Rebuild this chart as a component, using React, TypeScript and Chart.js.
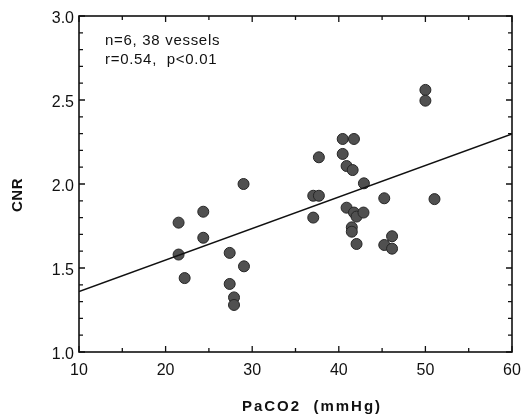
import React, { useEffect, useRef } from "react";
import { Chart, registerables } from "chart.js";

Chart.register(...registerables);

// PaCO2 (mmHg) values of each vessel
const paco2 = [
  29.0, 24.35, 21.5, 24.35, 21.5, 27.4, 29.05, 22.2, 27.4, 27.9, 27.9,
  40.45, 41.75, 37.7, 40.45, 40.9, 41.6, 42.9, 37.05, 37.7, 45.25, 51.05,
  40.9, 41.75, 42.05, 42.85, 37.05, 41.5, 41.5, 46.15, 42.05, 45.25, 46.15,
  50.0, 50.0,
];
// CNR values of each vessel
const cnr = [
  2.0, 1.835, 1.77, 1.68, 1.58, 1.59, 1.51, 1.44, 1.405, 1.325, 1.28,
  2.268, 2.268, 2.159, 2.179, 2.107, 2.083, 2.004, 1.93, 1.93, 1.915, 1.91,
  1.859, 1.83, 1.806, 1.83, 1.80, 1.742, 1.716, 1.689, 1.643, 1.637, 1.615,
  2.56, 2.496,
];
// regression line end points
const fitX = [10, 60];
const fitY = [1.36, 2.298];

const xTicks = [10, 20, 30, 40, 50, 60];
const yTicks = [1.0, 1.5, 2.0, 2.5, 3.0];
const annotation = ["n=6, 38 vessels", "r=0.54,  p<0.01"];
const xTitle = "PaCO2  (mmHg)";
const yTitle = "CNR";

const FONT = "'Liberation Sans', Arial, Helvetica, sans-serif";

const framePlugin = {
  id: "frame",
  afterDraw(chart: any) {
    const { ctx, chartArea: a, scales } = chart;
    const xs = scales.x;
    const ys = scales.y;
    ctx.save();
    ctx.strokeStyle = "#111";
    ctx.lineWidth = 1.6;
    ctx.strokeRect(a.left, a.top, a.right - a.left, a.bottom - a.top);
    ctx.lineWidth = 1.3;
    ctx.beginPath();
    for (let v = 10; v <= 60.001; v += 5) {
      const px = xs.getPixelForValue(v);
      const len = Math.abs(v % 10) < 0.001 ? 6 : 4;
      ctx.moveTo(px, a.bottom);
      ctx.lineTo(px, a.bottom - len);
      ctx.moveTo(px, a.top);
      ctx.lineTo(px, a.top + len);
    }
    for (let i = 0; i <= 20; i++) {
      const v = 1 + i * 0.1;
      const py = ys.getPixelForValue(v);
      const len = i % 5 === 0 ? 6 : 4;
      ctx.moveTo(a.left, py);
      ctx.lineTo(a.left + len, py);
      ctx.moveTo(a.right, py);
      ctx.lineTo(a.right - len, py);
    }
    ctx.stroke();

    ctx.fillStyle = "#111";
    ctx.font = `15px ${FONT}`;
    (ctx as any).letterSpacing = "0.7px";
    ctx.textAlign = "left";
    ctx.textBaseline = "middle";
    ctx.fillText(annotation[0], 105, 41);
    ctx.fillText(annotation[1], 105, 60);

    ctx.font = `bold 15px ${FONT}`;
    (ctx as any).letterSpacing = "2px";
    ctx.textAlign = "center";
    ctx.fillText(xTitle, 312, 407);
    (ctx as any).letterSpacing = "0.5px";
    ctx.translate(18, 195);
    ctx.rotate(-Math.PI / 2);
    ctx.fillText(yTitle, 0, 0);
    ctx.restore();
  },
};

export default function App() {
  const ref = useRef<HTMLCanvasElement | null>(null);
  useEffect(() => {
    if (!ref.current) return;
    const chart = new Chart(ref.current, {
      type: "scatter",
      data: {
        datasets: [
          {
            type: "line",
            data: fitX.map((x, i) => ({ x, y: fitY[i] })),
            borderColor: "#111",
            borderWidth: 1.6,
            pointRadius: 0,
            fill: false,
          },
          {
            data: paco2.map((x, i) => ({ x, y: cnr[i] })),
            pointRadius: 5.5,
            pointBackgroundColor: "#505050",
            pointBorderColor: "#262626",
            pointBorderWidth: 1,
          },
        ],
      },
      options: {
        animation: false,
        responsive: false,
        devicePixelRatio: 1,
        layout: { padding: { top: 16, right: 12, left: 0, bottom: 0 } },
        plugins: { legend: { display: false }, tooltip: { enabled: false } },
        scales: {
          x: {
            type: "linear",
            min: 10,
            max: 60,
            grid: { display: false, drawTicks: false },
            border: { display: false },
            afterBuildTicks: (s: any) => {
              s.ticks = xTicks.map((v) => ({ value: v }));
            },
            afterFit: (s: any) => {
              s.height = 62;
              s.paddingLeft = 0;
              s.paddingRight = 0;
            },
            ticks: {
              padding: 9,
              color: "#111",
              font: { family: FONT, size: 16 },
              maxRotation: 0,
              callback: (v: any) => String(v),
            },
          },
          y: {
            type: "linear",
            min: 1,
            max: 3,
            grid: { display: false, drawTicks: false },
            border: { display: false },
            afterBuildTicks: (s: any) => {
              s.ticks = yTicks.map((v) => ({ value: v }));
            },
            afterFit: (s: any) => {
              s.width = 79;
              s.paddingTop = 0;
              s.paddingBottom = 0;
            },
            ticks: {
              padding: 5,
              labelOffset: 3,
              color: "#111",
              font: { family: FONT, size: 16 },
              callback: (v: any) => Number(v).toFixed(1),
            },
          },
        },
      },
      plugins: [framePlugin],
    });
    return () => chart.destroy();
  }, []);
  return (
    <div style={{ position: "absolute", left: 0, top: 0, width: 524, height: 414, background: "#fff" }}>
      <canvas ref={ref} width={524} height={414} style={{ width: 524, height: 414 }} />
    </div>
  );
}
